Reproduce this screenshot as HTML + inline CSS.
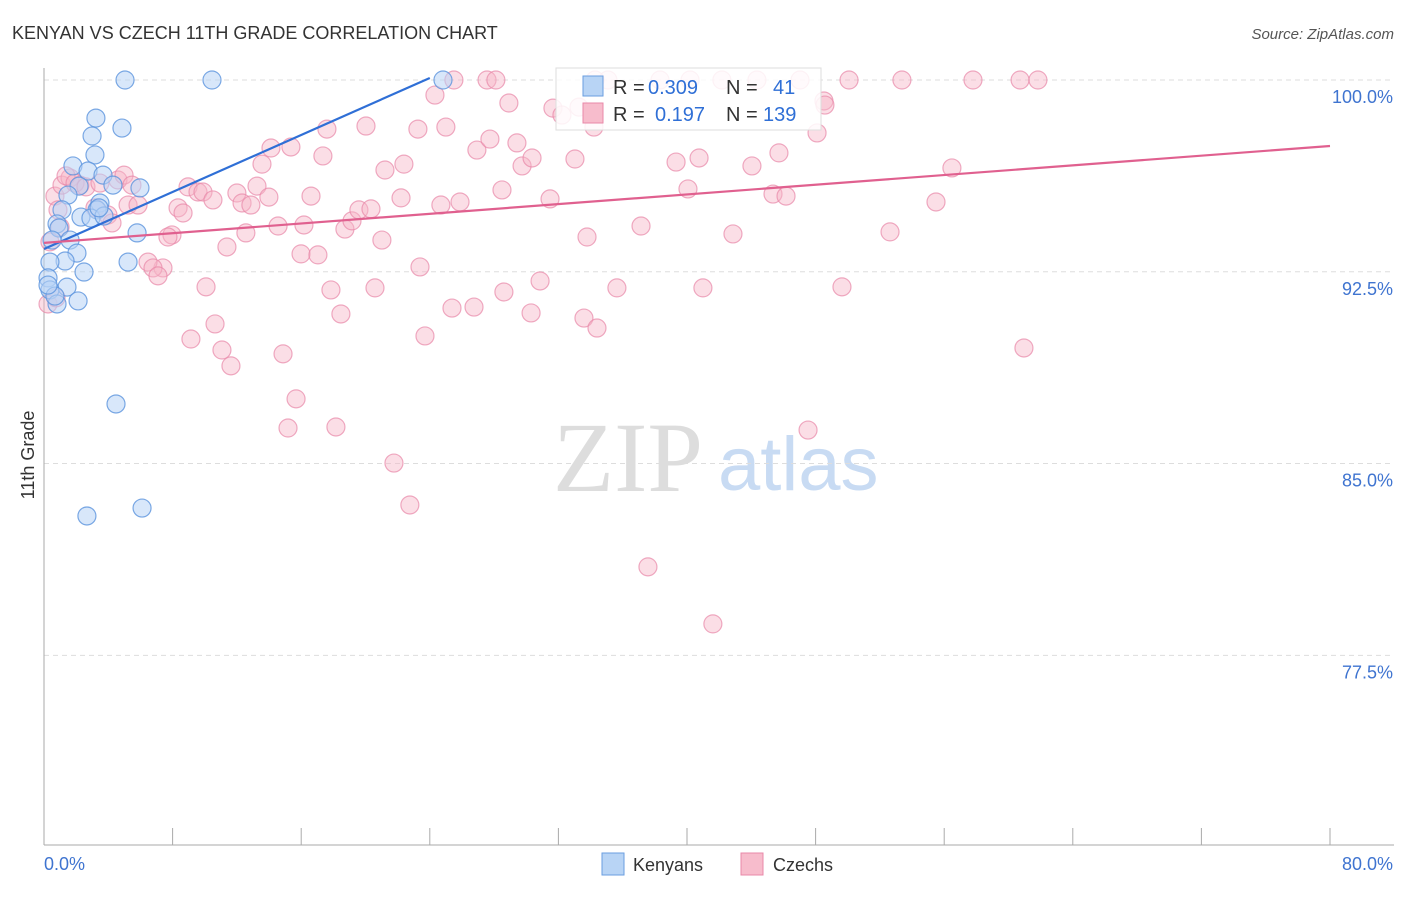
<!DOCTYPE html>
<html><head><meta charset="utf-8"><style>
body{margin:0;background:#fff;font-family:"Liberation Sans",sans-serif}
</style></head><body>
<svg id="chart" width="1406" height="892" xmlns="http://www.w3.org/2000/svg" font-family="Liberation Sans, sans-serif">
<text x="12" y="39" font-size="18" fill="#333">KENYAN VS CZECH 11TH GRADE CORRELATION CHART</text>
<text x="1394" y="39" font-size="15" fill="#555" font-style="italic" text-anchor="end">Source: ZipAtlas.com</text>
<g>
<text x="553" y="491" style="font-family:'Liberation Serif',serif;font-size:100px" fill="#ddd">ZIP</text>
<text x="718" y="490" style="font-family:'Liberation Sans',sans-serif;font-size:76px" fill="#c8dbf3">atlas</text>
</g>
<g id="grid"></g>
<g id="axes"></g>
<g id="pts"></g>
<g id="lines"></g>
<text transform="translate(34,455) rotate(-90)" font-size="18" fill="#333" text-anchor="middle">11th Grade</text>
<g>
<rect x="556" y="68" width="265" height="62" fill="#fff" fill-opacity="0.85" stroke="#ddd"/>
<rect x="583" y="76" width="20" height="20" fill="#b8d4f5" stroke="#6a9ee0"/>
<rect x="583" y="103" width="20" height="20" fill="#f7bccc" stroke="#e888a8"/>
<text x="613" y="94" font-size="20" fill="#333">R =</text>
<text x="648" y="94" font-size="20" fill="#2f6fd6">0.309</text>
<text x="726" y="94" font-size="20" fill="#333">N =</text>
<text x="773" y="94" font-size="20" fill="#2f6fd6">41</text>
<text x="613" y="121" font-size="20" fill="#333">R =</text>
<text x="655" y="121" font-size="20" fill="#2f6fd6">0.197</text>
<text x="726" y="121" font-size="20" fill="#333">N =</text>
<text x="763" y="121" font-size="20" fill="#2f6fd6">139</text>
</g>
<g>
<rect x="602" y="853" width="22" height="22" fill="#b8d4f5" stroke="#6a9ee0"/>
<text x="633" y="871" font-size="18" fill="#333">Kenyans</text>
<rect x="741" y="853" width="22" height="22" fill="#f7bccc" stroke="#e888a8"/>
<text x="773" y="871" font-size="18" fill="#333">Czechs</text>
</g>
</svg>
<script>
const xTicks=[0,8,16,24,32,40,48,56,64,72,80];
const yTicks=[100,92.5,85,77.5];
const yTickLabels=["100.0%","92.5%","85.0%","77.5%"];
const kenyanX=[5.04,10.45,24.82,3.23,4.85,2.99,3.17,1.80,2.74,3.67,4.29,5.97,2.18,1.49,1.12,3.48,3.30,2.30,2.92,3.73,0.81,0.93,5.79,1.62,0.50,2.05,1.31,0.37,5.23,2.49,0.25,1.43,0.37,2.12,0.81,4.48,2.67,6.10,0.68,0.25,3.42];
const kenyanY=[100,100,100,98.51,98.12,97.81,97.07,96.64,96.44,96.28,95.89,95.78,95.85,95.50,94.92,95.19,94.92,94.64,94.60,94.68,94.37,94.21,94.02,93.74,93.74,93.23,92.92,92.88,92.88,92.49,92.26,91.90,91.79,91.36,91.24,87.33,82.95,83.26,91.55,91.98,95.0];
const czechX=[0.68,1.12,1.62,2.24,1.37,1.93,2.61,0.87,1.00,0.37,0.25,0.75,3.48,4.60,4.98,5.47,3.98,4.23,3.17,5.23,5.85,8.96,9.58,9.89,10.51,8.34,8.65,7.96,7.71,7.40,6.47,6.78,7.09,10.08,9.14,10.64,11.07,11.63,11.38,12.0,12.32,12.56,12.87,13.25,13.56,13.99,14.12,15.36,14.56,14.87,15.68,15.18,15.99,16.17,16.61,17.04,17.35,17.60,17.85,18.16,18.47,18.72,19.16,19.59,20.03,20.34,20.59,21.02,21.21,21.77,22.21,22.39,22.76,23.26,23.39,23.70,24.32,24.69,25.0,25.38,25.88,25.50,26.75,26.93,27.56,27.74,28.11,28.49,28.61,28.92,29.42,29.74,30.30,30.36,30.86,31.48,31.66,32.22,33.03,33.28,33.59,33.78,34.40,34.21,35.08,35.64,37.14,37.57,39.32,40.06,40.75,40.99,41.61,42.86,44.04,45.35,45.72,46.16,47.53,48.09,48.52,49.64,50.08,52.63,53.37,55.49,56.48,57.79,60.72,60.96,61.83,42.17,44.35,38.32,40.19,47.03,34.28,48.58];
const czechY=[95.46,95.89,96.17,95.89,96.25,95.97,95.82,94.92,94.25,93.67,91.24,91.48,95.97,96.09,96.28,95.89,94.72,94.41,95.0,95.11,95.11,95.82,95.62,95.62,95.31,95.0,94.80,93.94,93.86,92.65,92.88,92.65,92.34,91.91,89.87,90.46,89.44,88.82,93.47,95.58,95.19,94.02,95.11,95.85,96.71,95.42,97.34,97.38,94.29,89.29,87.53,86.39,93.20,94.33,95.46,93.16,97.03,98.08,91.79,86.43,90.85,94.17,94.49,94.92,98.20,94.96,91.87,93.74,96.48,85.02,95.39,96.71,83.38,98.08,92.69,89.99,99.41,95.11,98.16,91.08,95.23,100,91.12,97.26,100,97.69,100,95.70,91.71,99.10,97.54,96.64,90.89,96.95,92.14,95.35,98.90,98.63,96.91,98.94,90.69,93.86,90.30,98.16,100,91.87,94.29,80.96,96.79,95.74,96.95,91.87,78.73,93.98,96.64,95.54,97.15,95.46,86.31,97.93,99.18,91.91,100,94.06,100,95.23,96.56,100,100,89.52,100,100,100,100,100,100,100,99.02];
const kenyanTrend=[0,93.39,24.0,100.08];
const czechTrend=[0,93.63,80,97.42];
const NS="http://www.w3.org/2000/svg";
const X=v=>44+v/80*1286, Y=v=>80+(100-v)*25.57;
function mk(tag,attrs,parent){const e=document.createElementNS(NS,tag);for(const k in attrs)e.setAttribute(k,attrs[k]);parent.appendChild(e);return e;}
const grid=document.getElementById('grid'),axes=document.getElementById('axes'),pts=document.getElementById('pts'),lines=document.getElementById('lines');
yTicks.forEach((t,i)=>{
 const l=mk('line',{x1:44,x2:1394,y1:Y(t),y2:Y(t),stroke:'#ddd','stroke-dasharray':'5,4'},grid);
 
 
 const tx=mk('text',{x:1393,y:Y(t)+23,'font-size':18,fill:'#3f74d0','text-anchor':'end'},axes);
 tx.textContent=yTickLabels[i];
 
 
});
const ya=mk('line',{x1:44,x2:44,y1:68,y2:845,stroke:'#aaa'},axes);


const xa=mk('line',{x1:44,x2:1394,y1:845,y2:845,stroke:'#aaa'},axes);


xTicks.forEach(t=>{
 const l=mk('line',{x1:X(t),x2:X(t),y1:828,y2:845,stroke:'#aaa'},axes);
 
 
});
const x0=mk('text',{x:44,y:870,'font-size':18,fill:'#3f74d0'},axes);x0.textContent='0.0%';


const x1=mk('text',{x:1393,y:870,'font-size':18,fill:'#3f74d0','text-anchor':'end'},axes);x1.textContent='80.0%';


czechX.forEach((v,i)=>{
 const c=mk('circle',{cx:X(v),cy:Y(czechY[i]),r:9,fill:'#f7b6c8','fill-opacity':0.45,stroke:'#e888a8','stroke-opacity':0.7,'stroke-width':1.2},pts);
 
 
});
kenyanX.forEach((v,i)=>{
 const c=mk('circle',{cx:X(v),cy:Y(kenyanY[i]),r:9,fill:'#b8d4f5','fill-opacity':0.55,stroke:'#5b93dd','stroke-opacity':0.8,'stroke-width':1.2},pts);
 
 
});
const kl=mk('line',{x1:X(kenyanTrend[0]),y1:Y(kenyanTrend[1]),x2:X(kenyanTrend[2]),y2:Y(kenyanTrend[3]),stroke:'#2f6fd6','stroke-width':2.2},lines);


const cl=mk('line',{x1:X(czechTrend[0]),y1:Y(czechTrend[1]),x2:X(czechTrend[2]),y2:Y(czechTrend[3]),stroke:'#e0608f','stroke-width':2.2},lines);


</script>
</body></html>
